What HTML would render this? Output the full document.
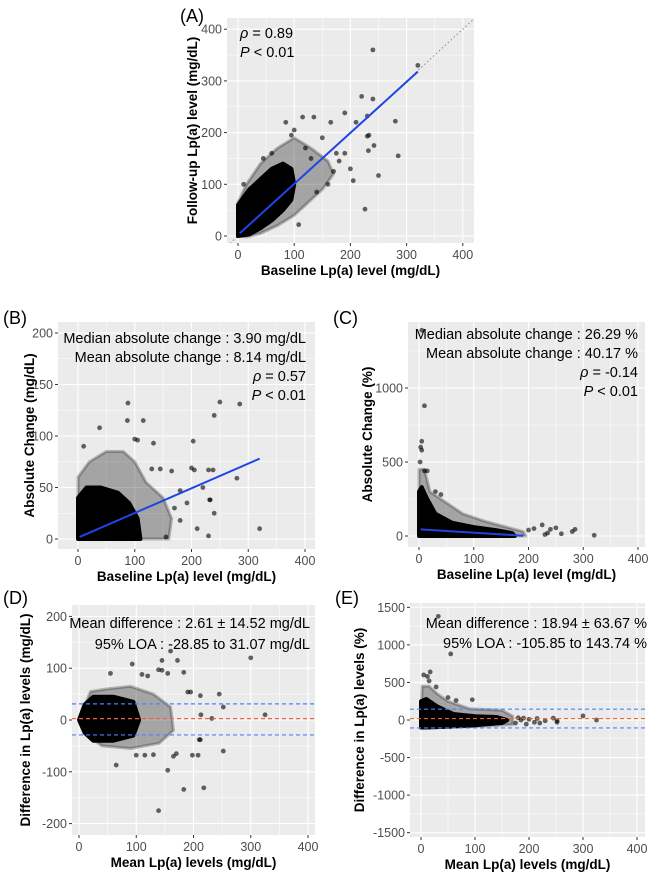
<!DOCTYPE html>
<html><head><meta charset="utf-8"><style>
html,body{margin:0;padding:0;background:#fff;}
svg{display:block;font-family:"Liberation Sans",Arial,sans-serif;}
.tk{font-size:12.5px;fill:#4d4d4d;}
.ttl{font-size:13.5px;font-weight:bold;fill:#000;}
.ann{font-size:14.5px;fill:#000;}
.lab{font-size:18px;fill:#000;}
</style></head><body>
<svg id="fig" width="654" height="873" viewBox="0 0 654 873"></svg>
<script>
// ---------- Panel A data ----------
const aTicksX = [0,100,200,300,400];
const aTicksY = [0,100,200,300,400];
const aCore = [[0,0],[0,60],[20,90],[40,110],[60,130],[80,140],[95,130],[100,100],[95,70],[80,50],[60,30],[40,15],[20,3]];
const aHalo = [[0,0],[0,65],[15,100],[40,140],[70,170],[100,190],[130,170],[160,145],[170,120],[150,90],[120,60],[100,40],[70,20],[40,5],[15,-2]];
const aPts = [[240,360],[320,330],[220,270],[240,265],[230,232],[190,238],[280,222],[210,220],[165,220],[115,230],[135,230],[100,205],[95,195],[85,220],[233,195],[230,193],[242,175],[232,165],[285,155],[250,117],[205,107],[226,52],[108,22],[150,190],[175,160],[200,130],[180,145],[160,100],[140,85],[190,160],[170,125],[120,170],[130,150],[10,100],[5,60],[60,160],[45,150]];
const aFit = [[3,5],[320,318]];
// ---------- Panel B data ----------
const bTicksX = [0,100,200,300,400];
const bTicksY = [0,50,100,150,200];
const bCore = [[0,0],[0,40],[15,50],[40,50],[70,45],[90,35],[105,20],[110,0]];
const bHalo = [[0,0],[0,60],[20,75],[50,85],[80,85],[100,75],[120,55],[150,40],[165,20],[160,0]];
const bPts = [[88,132],[115,115],[87,115],[38,108],[10,90],[100,97],[105,96],[133,93],[203,95],[250,133],[285,131],[240,120],[205,67],[200,69],[230,67],[238,67],[280,59],[220,50],[232,38],[233,38],[192,35],[240,25],[210,10],[230,3],[320,10],[155,2],[180,18],[170,30],[165,66],[130,68],[145,68],[180,47]];
const bFit = [[3,2],[320,78]];
// ---------- Panel C data ----------
const cTicksX = [0,100,200,300,400];
const cTicksY = [0,500,1000];
const cCore = [[0,0],[0,300],[5,330],[15,250],[30,150],[60,90],[100,60],[140,40],[170,20],[175,0]];
const cHalo = [[0,0],[0,450],[10,450],[20,300],[40,250],[80,150],[120,100],[160,60],[190,30],[195,0]];
const cPts = [[5,1390],[10,880],[5,640],[3,600],[5,580],[2,500],[10,440],[15,440],[40,280],[30,300],[210,50],[225,75],[240,45],[250,55],[285,45],[280,30],[320,5],[235,20],[230,10],[200,40],[260,15]];
const cFit = [[3,45],[190,2]];
// ---------- Panel D data ----------
const dTicksX = [0,100,200,300,400];
const dTicksY = [-200,-100,0,100,200];
const dCore = [[0,0],[10,30],[25,45],[60,45],[95,35],[105,0],[95,-30],[60,-40],[25,-40],[10,-25]];
const dHalo = [[0,0],[20,55],[50,60],[90,65],[130,50],[160,25],[165,-20],[140,-45],[90,-55],[40,-50],[15,-30]];
const dPts = [[93,108],[145,115],[172,115],[160,133],[139,97],[145,96],[155,90],[183,92],[55,90],[110,88],[120,85],[190,54],[195,54],[212,47],[245,50],[300,120],[252,25],[213,10],[232,3],[325,10],[65,-87],[155,-97],[183,-134],[218,-131],[139,-175],[212,-38],[210,-38],[252,-60],[198,-68],[208,-68],[170,-65],[130,-67],[100,-68],[115,-68],[165,-70]];
const dMean = 2.61, dLoaLow = -28.85, dLoaHigh = 31.07;
// ---------- Panel E data ----------
const eTicksX = [0,100,200,300,400];
const eTicksY = [-1500,-1000,-500,0,500,1000,1500];
const eCore = [[0,-100],[0,250],[10,280],[30,180],[60,80],[100,50],[140,40],[160,0],[150,-40],[100,-70],[50,-90],[10,-100]];
const eHalo = [[0,-100],[2,450],[15,450],[30,350],[50,250],[90,150],[150,130],[170,50],[170,-60],[120,-80],[50,-100]];
const ePts = [[32,1380],[55,880],[17,640],[5,600],[12,580],[15,520],[28,440],[50,300],[65,260],[95,270],[180,30],[190,25],[200,10],[215,20],[210,-30],[220,-40],[230,-10],[245,25],[252,-10],[252,-30],[300,55],[325,0],[175,-40],[195,-55],[185,0]];
const eMean = 18.94, eLoaLow = -105.85, eLoaHigh = 143.74;

const NS="http://www.w3.org/2000/svg";
const svg=document.getElementById('fig');
function mk(tag,attrs,parent){const e=document.createElementNS(NS,tag);for(const k in attrs)e.setAttribute(k,attrs[k]);(parent||svg).appendChild(e);return e;}

function panel(cfg){
  const g=mk('g',{});
  
  
  const sx=v=>cfg.x0+v*cfg.kx, sy=v=>cfg.y0-v*cfg.ky;
  const bg=mk('rect',{x:cfg.L,y:cfg.T,width:cfg.R-cfg.L,height:cfg.B-cfg.T,fill:'#ebebeb'},g);
  
  
  const cid='clip-'+cfg.name;
  const cp=mk('clipPath',{id:cid},g);mk('rect',{x:cfg.L,y:cfg.T,width:cfg.R-cfg.L,height:cfg.B-cfg.T},cp);
  const inner=mk('g',{'clip-path':'url(#'+cid+')'},g);
  const dx=cfg.tx[1]-cfg.tx[0], dy=cfg.ty[1]-cfg.ty[0];
  for(let i=0;i<cfg.tx.length;i++){const v=cfg.tx[i];
    mk('line',{x1:sx(v),x2:sx(v),y1:cfg.T,y2:cfg.B,stroke:'#fff','stroke-width':1.1},inner);
    mk('line',{x1:sx(v+dx/2),x2:sx(v+dx/2),y1:cfg.T,y2:cfg.B,stroke:'#fff','stroke-width':0.5},inner);}
  mk('line',{x1:sx(cfg.tx[0]-dx/2),x2:sx(cfg.tx[0]-dx/2),y1:cfg.T,y2:cfg.B,stroke:'#fff','stroke-width':0.5},inner);
  for(let i=0;i<cfg.ty.length;i++){const v=cfg.ty[i];
    mk('line',{y1:sy(v),y2:sy(v),x1:cfg.L,x2:cfg.R,stroke:'#fff','stroke-width':1.1},inner);
    mk('line',{y1:sy(v+dy/2),y2:sy(v+dy/2),x1:cfg.L,x2:cfg.R,stroke:'#fff','stroke-width':0.5},inner);}
  mk('line',{y1:sy(cfg.ty[0]-dy/2),y2:sy(cfg.ty[0]-dy/2),x1:cfg.L,x2:cfg.R,stroke:'#fff','stroke-width':0.5},inner);
  if(cfg.identity){const l=mk('line',{x1:sx(-30),y1:sy(-30),x2:sx(430),y2:sy(430),stroke:'#888','stroke-width':1,'stroke-dasharray':'1.5,2.5'},inner);
    }
  const poly=(arr)=>arr.map(p=>sx(p[0])+','+sy(p[1])).join(' ');
  const h=mk('polygon',{points:poly(cfg.halo),fill:'rgba(0,0,0,0.3)',stroke:'rgba(0,0,0,0.25)','stroke-width':3,'stroke-linejoin':'round'},inner);
  
  const c=mk('polygon',{points:poly(cfg.core),fill:'#000',stroke:'#000','stroke-width':4,'stroke-linejoin':'round'},inner);
  
  for(const p of cfg.pts){const d=mk('circle',{cx:sx(p[0]),cy:sy(p[1]),r:2.4,fill:'rgba(0,0,0,0.6)'},inner);
    }
  if(cfg.hl){for(const hl of cfg.hl){const l=mk('line',{x1:cfg.L,x2:cfg.R,y1:sy(hl[0]),y2:sy(hl[0]),stroke:hl[1],'stroke-width':1.2,'stroke-dasharray':'4,3'},inner);
    }}
  if(cfg.fit){const l=mk('line',{x1:sx(cfg.fit[0][0]),y1:sy(cfg.fit[0][1]),x2:sx(cfg.fit[1][0]),y2:sy(cfg.fit[1][1]),stroke:'#1f45e6','stroke-width':2},inner);
    }
  for(const v of cfg.tx){mk('line',{x1:sx(v),x2:sx(v),y1:cfg.B,y2:cfg.B+3,stroke:'#333'},g);
    const t=mk('text',{x:sx(v),y:cfg.B+16,'text-anchor':'middle',class:'tk'},g);t.textContent=v;
    }
  for(const v of cfg.ty){mk('line',{x1:cfg.L-3,x2:cfg.L,y1:sy(v),y2:sy(v),stroke:'#333'},g);
    const t=mk('text',{x:cfg.L-5,y:sy(v)+4.5,'text-anchor':'end',class:'tk'},g);t.textContent=v;
    }
  const xt=mk('text',{x:(cfg.L+cfg.R)/2,y:cfg.B+32,'text-anchor':'middle',class:'ttl'},g);xt.textContent=cfg.xt;
  
  const yc=(cfg.T+cfg.B)/2;
  const yt=mk('text',{x:cfg.ytx,y:yc,'text-anchor':'middle',class:'ttl',transform:'rotate(-90 '+cfg.ytx+' '+yc+')'},g);yt.textContent=cfg.yt;
  
  const lb=mk('text',{x:cfg.lab[0],y:cfg.lab[1],class:'lab'},g);lb.textContent=cfg.lab[2];
  
  for(const a of cfg.ann){const t=mk('text',{x:a[0],y:a[1],'text-anchor':a[3]||'end',class:'ann'},g);t.innerHTML=a[2];
    }
}
const it=s=>'<tspan font-style="italic">'+s+'</tspan>';
panel({name:'panel-a',L:227,R:474,T:18,B:243,x0:238,kx:0.562,y0:236,ky:0.517,tx:aTicksX,ty:aTicksY,
  core:aCore,halo:aHalo,pts:aPts,fit:aFit,identity:true,xt:'Baseline Lp(a) level (mg/dL)',yt:'Follow-up Lp(a) level (mg/dL)',ytx:197,
  lab:[180,22,'(A)'],ann:[[240,38,it('ρ')+' = 0.89','start'],[240,57,it('P')+' &lt; 0.01','start']]});
panel({name:'panel-b',L:58,R:315,T:322,B:549,x0:78,kx:0.5675,y0:539,ky:1.03,tx:bTicksX,ty:bTicksY,
  core:bCore,halo:bHalo,pts:bPts,fit:bFit,xt:'Baseline Lp(a) level (mg/dL)',yt:'Absolute Change (mg/dL)',ytx:34,
  lab:[3,324,'(B)'],ann:[[306,343,'Median absolute change : 3.90 mg/dL'],[306,362,'Mean absolute change : 8.14 mg/dL'],[306,381,it('ρ')+' = 0.57'],[306,400,it('P')+' &lt; 0.01']]});
panel({name:'panel-c',L:408,R:645,T:322,B:547,x0:419,kx:0.5475,y0:536,ky:0.148,tx:cTicksX,ty:cTicksY,
  core:cCore,halo:cHalo,pts:cPts,fit:cFit,xt:'Baseline Lp(a) level (mg/dL)',yt:'Absolute Change (%)',ytx:372,
  lab:[333,324,'(C)'],ann:[[638,339,'Median absolute change : 26.29 %'],[638,358,'Mean absolute change : 40.17 %'],[638,377,it('ρ')+' = -0.14'],[638,396,it('P')+' &lt; 0.01']]});
panel({name:'panel-d',L:72,R:315,T:605,B:835,x0:79,kx:0.5725,y0:720,ky:0.518,tx:dTicksX,ty:dTicksY,
  core:dCore,halo:dHalo,pts:dPts,hl:[[dLoaHigh,'#4d7fff','loa-upper-line'],[dMean,'#f4603a','mean-difference-line'],[dLoaLow,'#4d7fff','loa-lower-line']],
  xt:'Mean Lp(a) levels (mg/dL)',yt:'Difference in Lp(a) levels (mg/dL)',ytx:30,
  lab:[3,604,'(D)'],ann:[[310,628,'Mean difference : 2.61 ± 14.52 mg/dL'],[310,649,'95% LOA : -28.85 to 31.07 mg/dL']]});
panel({name:'panel-e',L:410,R:645,T:603,B:837,x0:421,kx:0.54,y0:720,ky:0.0751,tx:eTicksX,ty:eTicksY,
  core:eCore,halo:eHalo,pts:ePts,hl:[[eLoaHigh,'#4d7fff','loa-upper-line'],[eMean,'#f4603a','mean-difference-line'],[eLoaLow,'#4d7fff','loa-lower-line']],
  xt:'Mean Lp(a) levels (mg/dL)',yt:'Difference in Lp(a) levels (%)',ytx:364,
  lab:[335,604,'(E)'],ann:[[647,628,'Mean difference : 18.94 ± 63.67 %'],[647,648,'95% LOA : -105.85 to 143.74 %']]});
</script>
</body></html>
